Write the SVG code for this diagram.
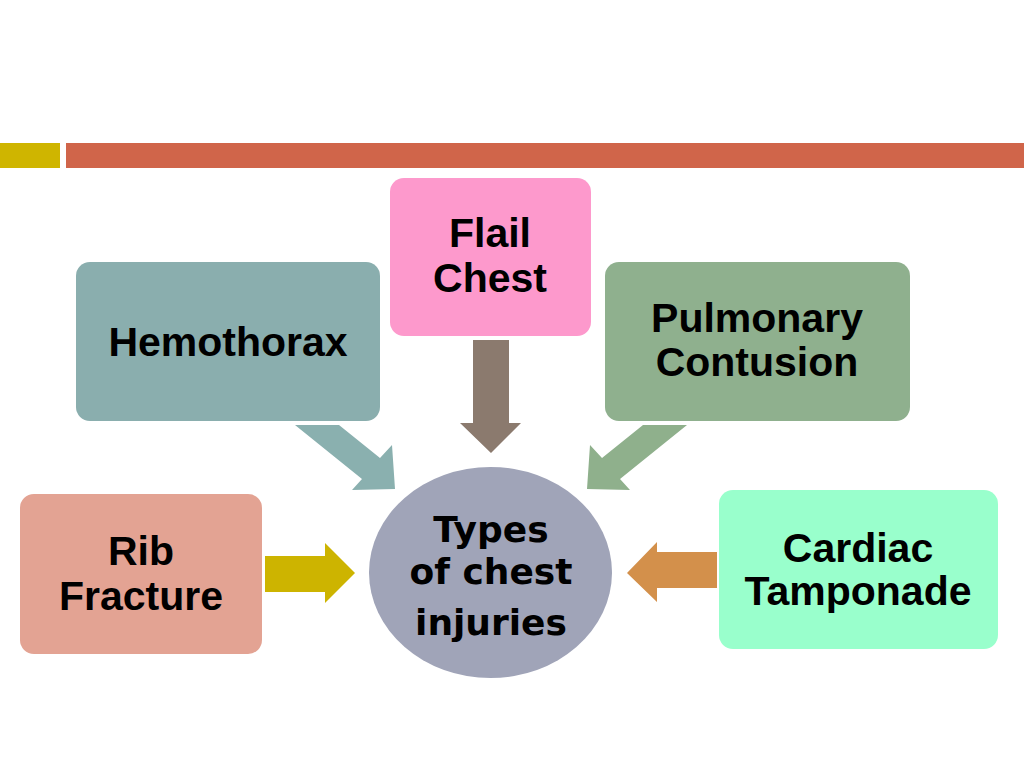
<svg xmlns="http://www.w3.org/2000/svg" width="1024" height="768" viewBox="0 0 1024 768">
<style>
.lbl{font-family:"Liberation Sans",Arial,sans-serif;font-weight:bold;font-size:41px;fill:#000;text-anchor:middle}
.ctr{font-family:"Comic Sans MS","DejaVu Sans",sans-serif;font-weight:bold;font-size:36px;fill:#000;text-anchor:middle}
</style>
<rect x="0" y="0" width="1024" height="768" fill="#ffffff"/>
<g id="header">
<rect x="0" y="143" width="60" height="25" fill="#CFB500"/>
<rect x="66" y="143" width="958" height="25" fill="#D0654A"/>
</g>
<g id="connectors">
<polygon points="473,340 509,340 509,423 521,423 491,453 460,423 473,423" fill="#8B7A6E"/>
<polygon points="295,425 339,425 380,458 392,445 395,489 352,490 362,479" fill="#8AB0AF"/>
<polygon points="687,425 643,425 602,458 590,445 587,489 630,490 620,479" fill="#8FB08C"/>
<polygon points="265,556 325,556 325,543 355,573 325,603 325,592 265,592" fill="#CDB400"/>
<polygon points="717,552 657,552 657,542 627,573 657,602 657,588 717,588" fill="#D3904B"/>
</g>
<g id="flail">
<rect x="390" y="178" width="201" height="158" rx="14" fill="#FD99CC"/>
<text class="lbl" x="490" y="247">Flail</text>
<text class="lbl" x="490" y="292">Chest</text>
</g>
<g id="hemothorax">
<rect x="76" y="262" width="304" height="159" rx="14" fill="#8AAEAE"/>
<text class="lbl" x="228" y="356">Hemothorax</text>
</g>
<g id="pulmonary">
<rect x="605" y="262" width="305" height="159" rx="14" fill="#8FB08E"/>
<text class="lbl" x="757" y="332">Pulmonary</text>
<text class="lbl" x="757" y="376">Contusion</text>
</g>
<g id="rib">
<rect x="20" y="494" width="242" height="160" rx="14" fill="#E3A393"/>
<text class="lbl" x="141" y="565">Rib</text>
<text class="lbl" x="141" y="610">Fracture</text>
</g>
<g id="cardiac">
<rect x="719" y="490" width="279" height="159" rx="14" fill="#99FFCC"/>
<text class="lbl" x="858" y="562">Cardiac</text>
<text class="lbl" x="858" y="605">Tamponade</text>
</g>
<g id="center">
<ellipse cx="490.5" cy="572.5" rx="121.5" ry="105.5" fill="#A0A4B8"/>
<text class="ctr" x="491" y="542">Types</text>
<text class="ctr" x="491" y="584">of chest</text>
<text class="ctr" x="491" y="635">injuries</text>
</g>
</svg>
